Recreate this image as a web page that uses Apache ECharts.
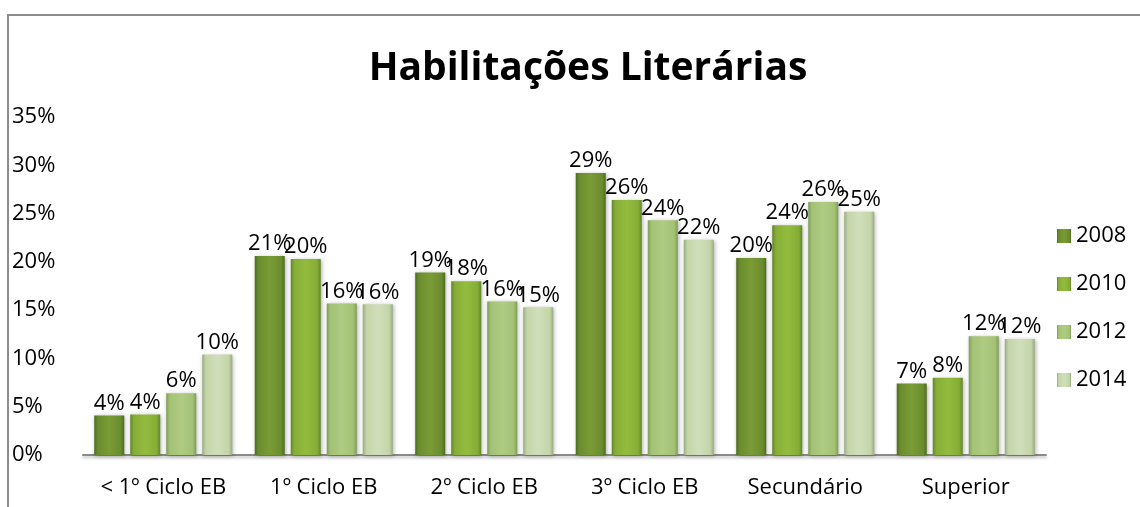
<!DOCTYPE html>
<html>
<head>
<meta charset="utf-8">
<script src="https://cdn.jsdelivr.net/npm/echarts@6/dist/echarts.min.js"></script>
<style>
  html, body { margin: 0; padding: 0; background: #fff; }
  #chart { width: 1140px; height: 507px; }
</style>
</head>
<body>
<div id="chart"></div>
<script>
// dados do gráfico
const categorias = ['< 1º Ciclo EB', '1º Ciclo EB', '2º Ciclo EB', '3º Ciclo EB', 'Secundário', 'Superior'];
const anos = ['2008', '2010', '2012', '2014'];
const v2008 = [4.1, 20.6, 18.9, 29.2, 20.4, 7.4];
const v2010 = [4.2, 20.3, 18.0, 26.4, 23.8, 8.0];
const v2012 = [6.4, 15.7, 15.9, 24.3, 26.2, 12.3];
const v2014 = [10.4, 15.6, 15.3, 22.3, 25.2, 12.0];
const yTicks = [0, 5, 10, 15, 20, 25, 30, 35];

// cores (borda escura, centro, realce)
const cores = [
  ['#4f6a1f', '#7a9c35', '#6b8c2e'],
  ['#62852a', '#93bc3e', '#86ad36'],
  ['#7f9c55', '#afcc82', '#a3c275'],
  ['#98ab80', '#d0dfbb', '#c3d5a8']
];

function grad(c) {
  return new echarts.graphic.LinearGradient(0, 0, 1, 0, [
    { offset: 0, color: c[0] },
    { offset: 0.12, color: c[2] },
    { offset: 0.5, color: c[1] },
    { offset: 0.88, color: c[2] },
    { offset: 1, color: c[0] }
  ]);
}

const fonte = '"Open Sans", "Noto Sans", sans-serif';
const valores = [v2008, v2010, v2012, v2014];

let myChart = echarts.init(document.getElementById('chart'));
myChart.setOption({
  animation: false,
  title: {
    text: 'Habilitações Literárias',
    left: 583,
    textAlign: 'center',
    top: 44,
    textStyle: { fontFamily: fonte, fontSize: 39, fontWeight: 'bold', color: '#000' }
  },
  legend: {
    orient: 'vertical',
    left: 1052,
    top: 220,
    itemWidth: 14,
    itemHeight: 14,
    itemGap: 26,
    icon: 'rect',
    textStyle: { fontFamily: fonte, fontSize: 22, color: '#000', lineHeight: 22 },
    data: anos
  },
  graphic: [{
    type: 'rect',
    shape: { x: 8, y: 15, width: 1300, height: 700 },
    style: { fill: 'none', stroke: '#8c8c8c', lineWidth: 2 },
    silent: true,
    z: -1
  }],
  grid: { left: 83, right: 94, top: 117, bottom: 52 },
  xAxis: {
    type: 'category',
    data: categorias,
    axisLine: { lineStyle: { color: '#8a8a8a', width: 2, shadowColor: 'rgba(0,0,0,0.25)', shadowBlur: 3, shadowOffsetY: 2 } },
    axisTick: { show: false },
    axisLabel: { fontFamily: fonte, fontSize: 22, color: '#000', margin: 22, interval: 0 }
  },
  yAxis: {
    type: 'value',
    min: yTicks[0],
    max: yTicks[yTicks.length - 1],
    interval: 5,
    splitLine: { show: false },
    axisLine: { show: false },
    axisTick: { show: false },
    axisLabel: {
      fontFamily: fonte, fontSize: 22, color: '#000',
      align: 'left', margin: 71,
      formatter: v => v + '%'
    }
  },
  series: anos.map((ano, i) => ({
    name: ano,
    type: 'bar',
    data: valores[i],
    barGap: '20%',
    barCategoryGap: '14%',
    itemStyle: {
      color: grad(cores[i]),
      shadowColor: 'rgba(0,0,0,0.3)',
      shadowBlur: 4,
      shadowOffsetX: 1,
      shadowOffsetY: 1
    },
    label: {
      show: true,
      position: 'top',
      distance: 1,
      fontFamily: fonte,
      fontSize: 22,
      color: '#000',
      formatter: p => Math.round(p.value) + '%'
    }
  }))
});
</script>
</body>
</html>
